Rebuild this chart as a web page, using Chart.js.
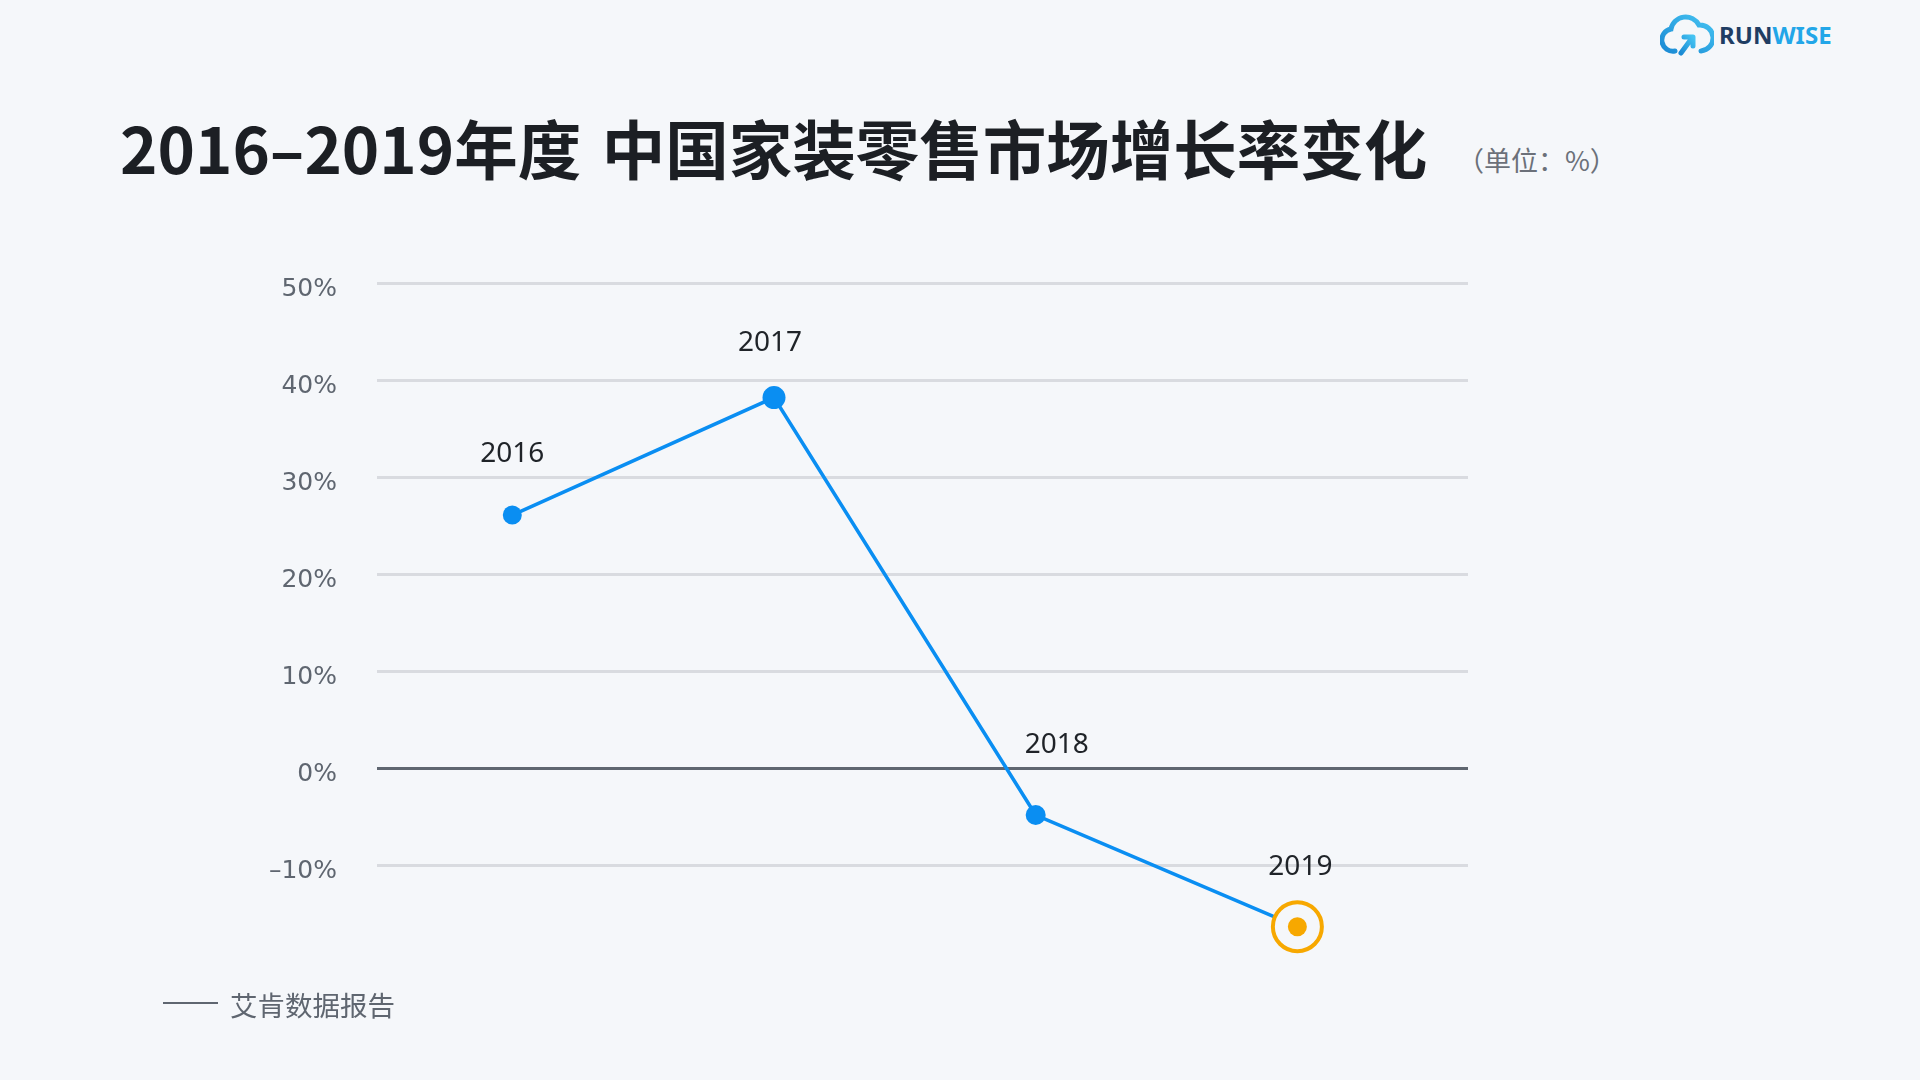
<!DOCTYPE html>
<html lang="zh-CN">
<head>
<meta charset="utf-8">
<title>2016-2019年度 中国家装零售市场增长率变化</title>
<script src="https://cdn.jsdelivr.net/npm/chart.js@4.4.1/dist/chart.umd.min.js"></script>
<style>
  html, body { margin: 0; padding: 0; background: #f5f7fa; }
  body { width: 1920px; height: 1080px; position: relative; overflow: hidden;
         font-family: "Noto Sans CJK SC", "Noto Sans", sans-serif; }
  #chartBox { position: absolute; left: 0; top: 0; width: 1920px; height: 1080px; }
  .title { position: absolute; left: 120px; top: 114px; font-size: 63.5px; line-height: 64px;
           font-weight: 700; color: #1c1f24; white-space: nowrap; word-spacing: 6px; }
  .unit { position: absolute; left: 1457px; top: 146px; font-size: 27px; line-height: 27px;
          color: #6b7079; white-space: nowrap; }
  .source { position: absolute; left: 230px; top: 990px; font-size: 27.5px; line-height: 28px;
            color: #5f6670; white-space: nowrap; }
  .source-line { position: absolute; left: 163px; top: 1002px; width: 55px; height: 0;
                 border-top: 2px solid #5f6670; }
  .logo { position: absolute; left: 1660px; top: 12px; height: 44px; display: flex; align-items: center; }
  .logo span { font-family: "Noto Sans", sans-serif; font-weight: 700; font-size: 24px; }
  .logo .run { color: #1f3d63; margin-left: 5px; }
  .logo .wise { color: #22a6e8; }
</style>
</head>
<body>
<div class="logo">
  <svg width="54" height="44" viewBox="0 0 54 44">
    <defs>
      <linearGradient id="lg" x1="0" y1="1" x2="1" y2="0">
        <stop offset="0" stop-color="#1a8ad4"/>
        <stop offset="1" stop-color="#45c3f2"/>
      </linearGradient>
    </defs>
    <path d="M15 39 A11 11 0 0 1 11 17 A15 15 0 0 1 39 13 A12 12 0 0 1 41 39" fill="none"
          stroke="url(#lg)" stroke-width="5" stroke-linecap="round"/>
    <path d="M21 41 L32 26 M24 25 H33 V34" fill="none" stroke="url(#lg)" stroke-width="5"
          stroke-linecap="round" stroke-linejoin="round"/>
  </svg>
  <span class="run">RUN</span><span class="wise">WISE</span>
</div>

<div class="title">2016–2019年度 中国家装零售市场增长率变化</div>
<div class="unit">（单位：%）</div>

<div id="chartBox"><canvas id="chartGrowth"></canvas></div>

<div class="source-line"></div>
<div class="source">艾肯数据报告</div>

<script>
// --- datos ---
const years = ["2016", "2017", "2018", "2019"];
const growthRate = [26.1, 38.2, -4.8, -16.3];
const yTicks = [-10, 0, 10, 20, 30, 40, 50];

const BLUE = "#0a8ef2";
const ORANGE = "#f7a800";
const BG = "#f5f7fa";

const el = (id) => document.getElementById(id);

const fmtPct = (v) => (v < 0 ? "–" + Math.abs(v) : v) + "%";

// year labels above each point (offsets tuned per point)
const labelDx = [0, -4, 21, 3];
const labelDy = [-61, -55, -70, -60];

const yearLabels = {
    id: "yearLabels",
    afterDatasetsDraw(chart) {
        const meta = chart.getDatasetMeta(2);
        const ctx = chart.ctx;
        ctx.save();
        ctx.font = '28px "Noto Sans", sans-serif';
        ctx.fillStyle = "#1f2328";
        ctx.textAlign = "center";
        ctx.textBaseline = "middle";
        meta.data.forEach((pt, i) => {
            ctx.fillText(years[i], pt.x + labelDx[i], pt.y + labelDy[i]);
        });
        ctx.restore();
    },
};

function renderGrowthChart() {
    const points = years.map((y, i) => ({ x: +y, y: growthRate[i] }));
    const last = points[points.length - 1];
    const ctx = el("chartGrowth").getContext("2d");

    new Chart(ctx, {
        type: "line",
        data: {
            datasets: [
                {   // inner dot of the highlighted year
                    data: [last],
                    order: 1,
                    showLine: false,
                    pointRadius: 9.5,
                    pointBackgroundColor: ORANGE,
                    pointBorderWidth: 0,
                    clip: false,
                },
                {   // ring of the highlighted year
                    data: [last],
                    order: 2,
                    showLine: false,
                    pointRadius: 24.5,
                    pointBackgroundColor: BG,
                    pointBorderColor: ORANGE,
                    pointBorderWidth: 4,
                    clip: false,
                },
                {
                    label: "增长率",
                    data: points,
                    order: 3,
                    borderColor: BLUE,
                    borderWidth: 3.5,
                    tension: 0,
                    pointRadius: [9.5, 11.5, 10, 0],
                    pointBackgroundColor: BLUE,
                    pointBorderWidth: 0,
                    clip: false,
                },
            ],
        },
        options: {
            responsive: true,
            maintainAspectRatio: false,
            animation: false,
            events: [],
            layout: { padding: { left: 0, top: 283, right: 452, bottom: 146.5 } },
            scales: {
                x: {
                    type: "linear",
                    min: 2015.483,
                    max: 2019.652,
                    display: false,
                },
                y: {
                    min: -17,
                    max: 50,
                    afterBuildTicks: (s) => { s.ticks = yTicks.map((v) => ({ value: v })); },
                    afterFit: (s) => { s.width = 377; },
                    border: { display: false },
                    grid: {
                        drawTicks: false,
                        lineWidth: 3,
                        color: (c) => (c.tick && c.tick.value === 0 ? "#5f6670" : "#d9dbe0"),
                    },
                    ticks: {
                        color: "#5f6670",
                        padding: 40,
                        labelOffset: 6,
                        font: { family: '"DejaVu Sans", sans-serif', size: 25 },
                        callback: (v) => fmtPct(v),
                    },
                },
            },
            plugins: {
                legend: { display: false },
                tooltip: { enabled: false },
            },
        },
        plugins: [yearLabels],
    });
}

document.addEventListener("DOMContentLoaded", () => {
    renderGrowthChart();
});
</script>
</body>
</html>
